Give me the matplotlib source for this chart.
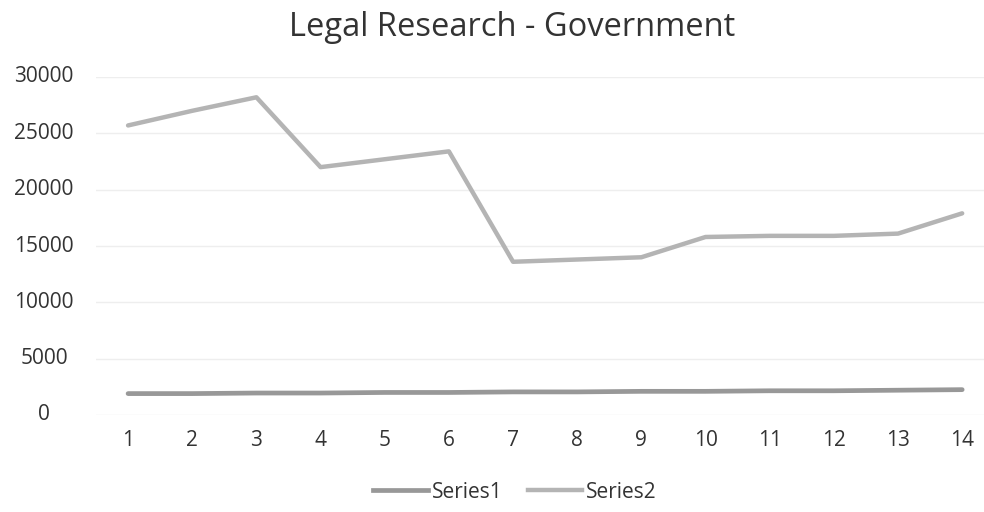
import matplotlib
matplotlib.use("Agg")
import matplotlib.pyplot as plt
from matplotlib.lines import Line2D

plt.rcParams['font.family'] = ['Open Sans', 'DejaVu Sans']

categories = list(range(1, 15))
series1 = [1900, 1900, 1950, 1950, 2000, 2000, 2050, 2050, 2100, 2100, 2150, 2150, 2200, 2250]
series2 = [25700, 27000, 28200, 22000, 22700, 23400, 13600, 13800, 14000, 15800, 15900, 15900, 16100, 17900]
yticks = [0, 5000, 10000, 15000, 20000, 25000, 30000]

c1 = '#989898'
c2 = '#b4b4b4'
text_c = '#333333'

fig = plt.figure(figsize=(9.84, 5.12), dpi=100)
ax = fig.add_axes([96/984, (512-415)/512, (984-96)/984, 338/512])

ax.plot(categories, series1, color=c1, lw=3.4, solid_capstyle='round', zorder=3)
ax.plot(categories, series2, color=c2, lw=3.2, solid_capstyle='round', zorder=3)

ax.set_xlim(0.5, 14.34)
ax.set_ylim(0, 30000)
ax.set_yticks(yticks)
ax.set_yticklabels([])
ax.set_xticks(categories)
ax.set_xticklabels([])
ax.tick_params(length=0)
for s in ax.spines.values():
    s.set_visible(False)
ax.grid(axis='y', color='#eeeeee', lw=1)
ax.set_axisbelow(True)

for v in yticks:
    yy = ax.transData.transform((0, v))[1]
    fig.text(44/984, yy/512, str(v), ha='center', va='center', fontsize=15, color=text_c)

for c in categories:
    xx = ax.transData.transform((c, 0))[0]
    fig.text(xx/984, 1 - 440/512, str(c), ha='center', va='center', fontsize=15, color=text_c)

fig.text(512/984, 1 - 27/512, 'Legal Research - Government', ha='center', va='center',
         fontsize=23.5, color=text_c)

handles = [Line2D([0], [0], color=c1, lw=3.4), Line2D([0], [0], color=c2, lw=3.2)]
fig.legend(handles, ['Series1', 'Series2'], loc='center', bbox_to_anchor=(515/984, 1 - 492/512),
           ncol=2, frameon=False, fontsize=15, handlelength=2.6, columnspacing=1.2,
           handletextpad=0.2, labelcolor=text_c)

fig.savefig('out.png', dpi=100)
